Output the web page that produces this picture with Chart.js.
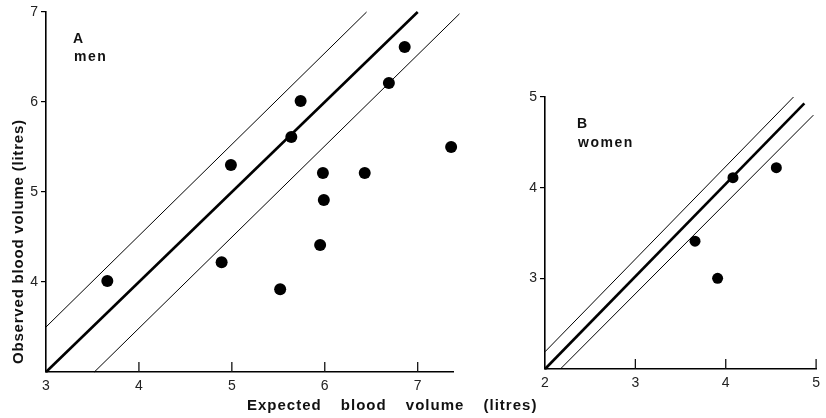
<!DOCTYPE html>
<html>
<head>
<meta charset="utf-8">
<script src="https://cdn.jsdelivr.net/npm/chart.js@4.4.1/dist/chart.umd.min.js"></script>
<style>
  body { margin: 0; background: #fff; }
  #wrap { position: relative; width: 826px; height: 418px; overflow: hidden; background: #fff; }
  canvas { position: absolute; top: 0; }
  .lbl { position: absolute; font-family: 'Liberation Sans', Arial, sans-serif; font-weight: bold; color: #111; line-height: 1; white-space: nowrap; }
</style>
</head>
<body>
<div id="wrap">
  <canvas id="menChart" width="470" height="418" style="left:0"></canvas>
  <canvas id="womenChart" width="326" height="418" style="left:500px"></canvas>
  <div class="lbl" style="left:73px; top:31px; font-size:14px;">A</div>
  <div class="lbl" style="left:74px; top:49px; font-size:14px; letter-spacing:1.5px;">men</div>
  <div class="lbl" style="left:577px; top:116px; font-size:14px;">B</div>
  <div class="lbl" style="left:578px; top:135px; font-size:14px; letter-spacing:1.5px;">women</div>
  <div class="lbl" style="left:247px; top:397px; font-size:15px; letter-spacing:1px; word-spacing:14px;">Expected blood volume (litres)</div>
  <div class="lbl" style="left:-103px; top:236px; width:241px; text-align:center; font-size:15px; letter-spacing:0.8px; transform:rotate(-90deg); transform-origin:50% 50%;">Observed blood volume (litres)</div>
</div>
<script>
// A - men
const menExpected = [3.66, 4.99, 4.89, 5.52, 5.64, 5.74, 5.98, 5.99, 5.95, 6.43, 6.69, 6.86, 7.36];
const menObserved = [4.01, 5.30, 4.22, 3.92, 5.61, 6.01, 5.21, 4.91, 4.41, 5.21, 6.21, 6.61, 5.50];
const menLineX = [3, 7.0];
const menLineY = [3, 7.0];
const menUpperX = [3, 6.45];
const menUpperY = [3.5, 7.0];
const menLowerX = [3.52, 7.45];
const menLowerY = [3, 6.98];
const menTicksX = [3, 4, 5, 6, 7];
const menTicksY = [4, 5, 6, 7];

// B - women
const womenExpected = [3.66, 3.91, 4.08, 4.56];
const womenObserved = [3.41, 3.00, 4.11, 4.22];
const womenLineX = [2, 4.87];
const womenLineY = [2, 4.93];
const womenUpperX = [2, 4.75];
const womenUpperY = [2.19, 5.0];
const womenLowerX = [2.17, 4.97];
const womenLowerY = [2, 4.8];
const womenTicksX = [2, 3, 4, 5];
const womenTicksY = [3, 4, 5];

const toPoints = (xs, ys) => xs.map((x, i) => ({ x: x, y: ys[i] }));

// tick marks pointing up into the plot on the x axis
const innerTicks = {
    id: 'innerTicks',
    afterDatasetsDraw(chart) {
        const s = chart.scales.x;
        const ctx = chart.ctx;
        ctx.save();
        ctx.strokeStyle = '#111';
        ctx.lineWidth = 1.3;
        s.ticks.forEach(t => {
            if (t.value === s.min) return;
            const px = s.getPixelForValue(t.value);
            ctx.beginPath();
            ctx.moveTo(px, s.top);
            ctx.lineTo(px, s.top - 10);
            ctx.stroke();
        });
        ctx.restore();
    }
};

function lineSet(xs, ys, width) {
    return {
        data: toPoints(xs, ys),
        showLine: true,
        borderColor: '#000',
        borderWidth: width,
        pointRadius: 0,
        clip: false
    };
}

function makeChart(id, cfg) {
    const tickFont = { family: "'Liberation Sans', Arial, sans-serif", size: 14 };
    return new Chart(document.getElementById(id), {
        type: 'scatter',
        data: {
            datasets: [
                lineSet(cfg.upperX, cfg.upperY, 1),
                lineSet(cfg.lineX, cfg.lineY, 2.6),
                lineSet(cfg.lowerX, cfg.lowerY, 1),
                {
                    data: toPoints(cfg.xs, cfg.ys),
                    backgroundColor: '#000',
                    borderWidth: 0,
                    pointRadius: cfg.radius,
                    clip: false
                }
            ]
        },
        options: {
            responsive: false,
            animation: false,
            devicePixelRatio: 1,
            layout: { padding: cfg.padding },
            plugins: { legend: { display: false }, tooltip: { enabled: false } },
            scales: {
                x: {
                    type: 'linear',
                    min: cfg.xMin, max: cfg.xMax,
                    afterBuildTicks: s => { s.ticks = cfg.ticksX.map(v => ({ value: v })); },
                    afterFit: s => { s.height = 26; },
                    grid: { display: false, drawTicks: false },
                    border: { display: true, color: '#000', width: 1.6 },
                    ticks: { color: '#222', font: tickFont, padding: 6, maxRotation: 0 }
                },
                y: {
                    type: 'linear',
                    min: cfg.yMin, max: cfg.yMax,
                    afterBuildTicks: s => { s.ticks = cfg.ticksY.map(v => ({ value: v })); },
                    afterFit: s => { s.width = 40; },
                    grid: { display: true, drawOnChartArea: false, drawTicks: true, tickLength: 5, color: '#000', lineWidth: 1.2 },
                    border: { display: true, color: '#000', width: 1.6 },
                    ticks: { color: '#222', font: tickFont, padding: 3 }
                }
            }
        },
        plugins: [innerTicks]
    });
}

makeChart('menChart', {
    xs: menExpected, ys: menObserved,
    lineX: menLineX, lineY: menLineY,
    upperX: menUpperX, upperY: menUpperY,
    lowerX: menLowerX, lowerY: menLowerY,
    ticksX: menTicksX, ticksY: menTicksY,
    xMin: 3, xMax: 7.38, yMin: 3, yMax: 7,
    radius: 6,
    padding: { left: 6, right: 17, top: 12, bottom: 20 }
});

makeChart('womenChart', {
    xs: womenExpected, ys: womenObserved,
    lineX: womenLineX, lineY: womenLineY,
    upperX: womenUpperX, upperY: womenUpperY,
    lowerX: womenLowerX, lowerY: womenLowerY,
    ticksX: womenTicksX, ticksY: womenTicksY,
    xMin: 2, xMax: 5, yMin: 2, yMax: 5,
    radius: 5.5,
    padding: { left: 5, right: 2, top: 97, bottom: 23 }
});
</script>
</body>
</html>
